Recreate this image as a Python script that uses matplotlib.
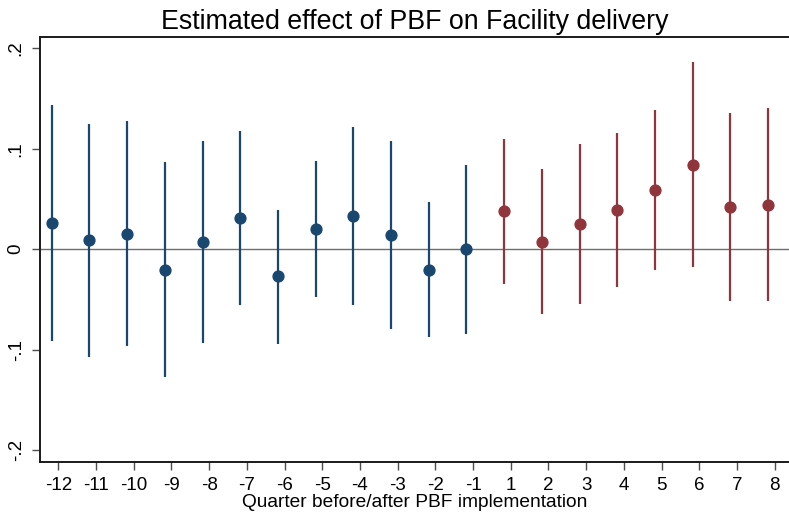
import matplotlib
matplotlib.use("Agg")
import matplotlib.pyplot as plt
import numpy as np

plt.rcParams['font.family'] = ['Liberation Sans', 'DejaVu Sans']

# Event-time quarters relative to PBF implementation
quarters = ["-12", "-11", "-10", "-9", "-8", "-7", "-6", "-5", "-4", "-3",
            "-2", "-1", "1", "2", "3", "4", "5", "6", "7", "8"]
# Point estimates and 95% confidence bounds
estimates = [0.0265, 0.0093, 0.0149, -0.0206, 0.0076, 0.0308, -0.0272, 0.0199,
             0.0331, 0.0142, -0.0206, 0.0, 0.0381, 0.0076, 0.0249, 0.0391,
             0.0587, 0.0842, 0.0421, 0.0444]
ci_upper = [0.1436, 0.1247, 0.1274, 0.0866, 0.1078, 0.1174, 0.0388, 0.0879,
            0.1217, 0.1075, 0.0471, 0.0839, 0.1100, 0.0796, 0.1048, 0.1160,
            0.1383, 0.1864, 0.1356, 0.1409]
ci_lower = [-0.0910, -0.1075, -0.0969, -0.1268, -0.0935, -0.0557, -0.0942,
            -0.0481, -0.0557, -0.0790, -0.0876, -0.0846, -0.0342, -0.0647,
            -0.0551, -0.0378, -0.0209, -0.0173, -0.0521, -0.0521]
y_ticks = [-0.2, -0.1, 0.0, 0.1, 0.2]
y_tick_labels = ["-.2", "-.1", "0", ".1", ".2"]

pre_color = "#1a476f"
post_color = "#90353b"

fig = plt.figure(figsize=(7.89, 5.19), dpi=100)
ax = fig.add_axes([40 / 789, 1 - 461.7 / 519, 1 - 40 / 789, (461.7 - 37) / 519])

idx = np.arange(len(quarters))
xpos = idx - 0.175
est = np.array(estimates)
lo = np.array(ci_lower)
hi = np.array(ci_upper)
pre = np.array([q.startswith("-") for q in quarters])

ax.axhline(0, color="#6e6e6e", lw=1.0, zorder=1)

for mask, col in ((pre, pre_color), (~pre, post_color)):
    ax.vlines(xpos[mask], lo[mask], hi[mask], color=col, lw=1.6, zorder=2)
    ax.plot(xpos[mask], est[mask], "o", color=col, ms=7.8, mec=col, zorder=3)

ax.set_xlim(-0.485, 19.38)
ax.set_ylim(-0.2116, 0.2112)
ax.set_xticks(idx)
ax.set_xticklabels(quarters, fontsize=13.5)
ax.set_yticks(y_ticks)
ax.set_yticklabels(y_tick_labels, fontsize=13.5, rotation=90, va="center")
ax.tick_params(axis="both", direction="out", length=6, width=1.0, color="#4d4d4d", pad=5)

for side in ("left", "bottom", "top"):
    ax.spines[side].set_color("#1a1a1a")
    ax.spines[side].set_linewidth(1.4)
ax.spines["right"].set_visible(False)

ax.set_title("Estimated effect of PBF on Facility delivery", fontsize=19.3, pad=6)
ax.set_xlabel("Quarter before/after PBF implementation", fontsize=13.8, labelpad=0)

fig.savefig("out.png", dpi=100)
